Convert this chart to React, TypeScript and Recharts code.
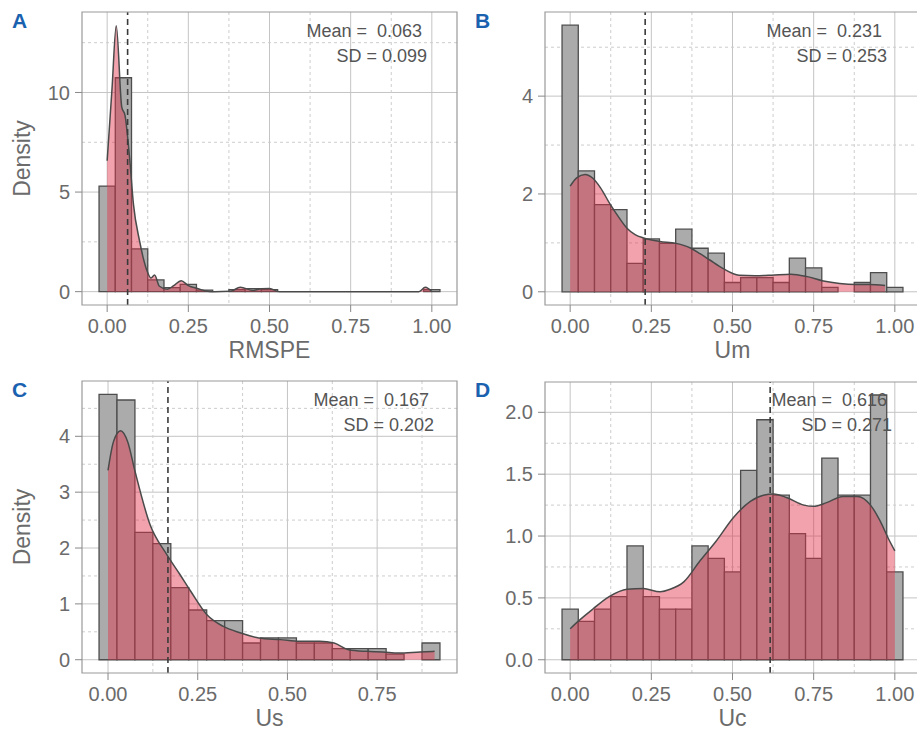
import React from "react";
import {
  Area,
  CartesianGrid,
  ComposedChart,
  ReferenceArea,
  ReferenceLine,
  XAxis,
  YAxis,
} from "recharts";

// histogram bin width (bins are centred on these x values)
const BIN = 0.05;

const BINS_0_TO_1 = [
  0, 0.05, 0.1, 0.15, 0.2, 0.25, 0.3, 0.35, 0.4, 0.45, 0.5, 0.55, 0.6, 0.65,
  0.7, 0.75, 0.8, 0.85, 0.9, 0.95, 1.0,
];
const BINS_0_TO_09 = [
  0, 0.05, 0.1, 0.15, 0.2, 0.25, 0.3, 0.35, 0.4, 0.45, 0.5, 0.55, 0.6, 0.65,
  0.7, 0.75, 0.8, 0.85, 0.9,
];

const X_TICKS = [0, 0.25, 0.5, 0.75, 1];
const X_TICKS_US = [0, 0.25, 0.5, 0.75];
const X_MINOR = [0.125, 0.375, 0.625, 0.875];

// A — RMSPE
const rmspeHist = [
  5.3, 10.74, 2.15, 0.59, 0.2, 0.37, 0.08, 0, 0.1, 0.15, 0.1, 0, 0, 0, 0, 0, 0,
  0, 0, 0, 0.1,
];
const rmspeDensX = [
  0, 0.015, 0.028, 0.045, 0.055, 0.069, 0.081, 0.1, 0.12, 0.135, 0.146, 0.161,
  0.185, 0.205, 0.228, 0.25, 0.28, 0.3, 0.33, 0.38, 0.41, 0.45, 0.475, 0.5,
  0.53, 0.7, 0.96, 0.98, 1.0,
];
const rmspeDensY = [
  6.57, 10.2, 13.35, 9.26, 8.85, 6.74, 4.38, 2.53, 1.18, 0.69, 0.84, 0.27,
  0.12, 0.3, 0.55, 0.3, 0.15, 0.05, 0, 0.02, 0.22, 0.06, 0.15, 0.16, 0, 0, 0,
  0.22, 0,
];

// B — Um
const umHist = [
  5.45, 2.47, 1.78, 1.68, 0.58, 1.08, 0.99, 1.28, 0.89, 0.79, 0.19, 0.29, 0.29,
  0.19, 0.69, 0.49, 0.09, 0, 0.19, 0.39, 0.09,
];
const umDensX = [
  0, 0.02, 0.046, 0.07, 0.093, 0.124, 0.15, 0.175, 0.2, 0.226, 0.276, 0.326,
  0.372, 0.4, 0.43, 0.47, 0.52, 0.57, 0.62, 0.68, 0.73, 0.78, 0.83, 0.88, 0.92,
  0.97,
];
const umDensY = [
  2.16, 2.33, 2.4, 2.32, 2.13, 1.78, 1.52, 1.3, 1.17, 1.1, 1.03, 0.99, 0.89,
  0.78, 0.65, 0.48, 0.34, 0.33, 0.34, 0.36, 0.31, 0.22, 0.17, 0.15, 0.15, 0.13,
];

// C — Us
const usHist = [
  4.75, 4.65, 2.28, 2.08, 1.29, 0.89, 0.7, 0.7, 0.3, 0.39, 0.39, 0.3, 0.3, 0.2,
  0.2, 0.2, 0.1, 0, 0.3,
];
const usDensX = [
  0, 0.015, 0.035, 0.055, 0.075, 0.117, 0.163, 0.2, 0.23, 0.275, 0.32, 0.37,
  0.42, 0.48, 0.535, 0.59, 0.63, 0.67, 0.72, 0.765, 0.81, 0.87, 0.91,
];
const usDensY = [
  3.39, 3.9, 4.1, 3.9, 3.38, 2.42, 1.89, 1.53, 1.23, 0.81, 0.6, 0.48, 0.39,
  0.36, 0.33, 0.33, 0.3, 0.18, 0.15, 0.14, 0.12, 0.14, 0.15,
];

// D — Uc
const ucHist = [
  0.41, 0.31, 0.41, 0.51, 0.92, 0.51, 0.41, 0.41, 0.92, 0.82, 0.71, 1.53, 1.94,
  1.33, 1.02, 0.82, 1.63, 1.33, 1.33, 2.14, 0.71,
];
const ucDensX = [
  0, 0.02, 0.07, 0.12, 0.175, 0.225, 0.277, 0.308, 0.35, 0.4, 0.45, 0.503,
  0.555, 0.595, 0.627, 0.668, 0.72, 0.75, 0.79, 0.84, 0.885, 0.925, 0.955,
  0.98, 1.0,
];
const ucDensY = [
  0.25, 0.3, 0.41, 0.51, 0.57, 0.575, 0.55, 0.57, 0.63, 0.8, 0.96, 1.15, 1.28,
  1.33, 1.34, 1.31, 1.25, 1.24, 1.27, 1.32, 1.32, 1.25, 1.12, 0.98, 0.88,
];

const FONT = "'Liberation Sans', Arial, sans-serif";
const TEXT = "#6b6b6b";
const BAR_FILL = "#ababab";
const BAR_LINE = "#4d4d4d";
const DENS_FILL = "#e0304a";

type PanelProps = {
  letter: string;
  xLabel: string;
  yLabel?: string;
  centers: number[];
  heights: number[];
  densX: number[];
  densY: number[];
  xDomain: [number, number];
  yDomain: [number, number];
  xTicks: number[];
  yTicks: number[];
  yMinor: number[];
  yDigits: number;
  mean: number;
  sd: number;
  left: number;
  top: number;
  width: number;
  height: number;
  marginTop: number;
  marginRight: number;
  yAxisWidth: number;
  titleOffset: number;
  noteRight: number;
  noteTop: number;
  letterLeft: number;
  letterTop: number;
};

function Panel(p: PanelProps) {
  const data = p.densX.map((x, i) => ({ x, y: p.densY[i] }));
  const tick = { fontSize: 20, fill: TEXT, fontFamily: FONT };

  return (
    <div
      style={{ position: "absolute", left: p.left, top: p.top, width: p.width, height: p.height }}
    >
      <ComposedChart
        width={p.width}
        height={p.height}
        data={data}
        margin={{ top: p.marginTop, right: p.marginRight, bottom: 0, left: 0 }}
      >
        <CartesianGrid
          stroke="#c4c4c4"
          horizontalValues={p.yTicks}
          verticalValues={p.xTicks}
        />
        <CartesianGrid
          stroke="#cdcdcd"
          strokeDasharray="3 3"
          horizontalValues={p.yMinor}
          verticalValues={X_MINOR}
        />
        <XAxis
          dataKey="x"
          type="number"
          domain={p.xDomain}
          allowDataOverflow
          ticks={p.xTicks}
          tickFormatter={(v: number) => v.toFixed(2)}
          tick={tick}
          tickSize={7}
          tickMargin={7}
          tickLine={{ stroke: "#888" }}
          axisLine={false}
          height={60}
          label={{
            value: p.xLabel,
            position: "insideBottom",
            offset: p.titleOffset,
            fill: TEXT,
            fontSize: 23,
            fontFamily: FONT,
          }}
        />
        <YAxis
          type="number"
          domain={p.yDomain}
          allowDataOverflow
          ticks={p.yTicks}
          tickFormatter={(v: number) => v.toFixed(p.yDigits)}
          tick={tick}
          tickSize={7}
          tickMargin={5}
          tickLine={{ stroke: "#888" }}
          axisLine={false}
          width={p.yAxisWidth}
          label={
            p.yLabel
              ? {
                  value: p.yLabel,
                  angle: -90,
                  position: "insideLeft",
                  offset: 22,
                  fill: TEXT,
                  fontSize: 23,
                  fontFamily: FONT,
                  style: { textAnchor: "middle" },
                }
              : undefined
          }
        />
        {p.centers.map((c, i) => (
          <ReferenceArea
            key={c}
            x1={c - BIN / 2}
            x2={c + BIN / 2}
            y1={0}
            y2={p.heights[i]}
            fill={BAR_FILL}
            fillOpacity={1}
            stroke={BAR_LINE}
            strokeWidth={1.3}
            ifOverflow="visible"
            zIndex={50}
          />
        ))}
        <Area
          dataKey="y"
          type="monotone"
          baseValue={0}
          fill={DENS_FILL}
          fillOpacity={0.45}
          stroke="#4a4a4a"
          strokeWidth={1.5}
          dot={false}
          activeDot={false}
          isAnimationActive={false}
          zIndex={100}
        />
        <ReferenceLine
          x={p.mean}
          stroke="#3a3a3a"
          strokeWidth={1.6}
          strokeDasharray="6 4"
          zIndex={400}
        />
        <ReferenceArea
          x1={p.xDomain[0]}
          x2={p.xDomain[1]}
          y1={p.yDomain[0]}
          y2={p.yDomain[1]}
          fill="none"
          fillOpacity={0}
          stroke="#9a9a9a"
          strokeWidth={1.2}
          zIndex={450}
        />
      </ComposedChart>
      <div
        style={{
          position: "absolute",
          left: p.noteRight - 220,
          top: p.noteTop,
          width: 220,
          textAlign: "right",
          fontFamily: FONT,
          fontSize: 18,
          lineHeight: "25px",
          color: "#555",
          whiteSpace: "pre",
        }}
      >
        <div style={{ paddingRight: 5 }}>{`Mean =  ${p.mean.toFixed(3)}`}</div>
        <div>{`SD = ${p.sd.toFixed(3)}`}</div>
      </div>
      <div
        style={{
          position: "absolute",
          left: p.letterLeft,
          top: p.letterTop,
          fontFamily: FONT,
          fontWeight: 700,
          fontSize: 21,
          lineHeight: "24px",
          color: "#1a62b0",
        }}
      >
        {p.letter}
      </div>
    </div>
  );
}

export default function App() {
  return (
    <div
      style={{
        position: "absolute",
        left: 0,
        top: 0,
        width: 917,
        height: 731,
        overflow: "hidden",
        background: "#fff",
      }}
    >
      <Panel
        letter="A"
        xLabel="RMSPE"
        yLabel="Density"
        centers={BINS_0_TO_1}
        heights={rmspeHist}
        densX={rmspeDensX}
        densY={rmspeDensY}
        xDomain={[-0.0775, 1.0775]}
        yDomain={[-0.67, 14.04]}
        xTicks={X_TICKS}
        yTicks={[0, 5, 10]}
        yMinor={[2.5, 7.5, 12.5]}
        yDigits={0}
        mean={0.063}
        sd={0.099}
        left={0}
        top={0}
        width={460}
        height={365}
        marginTop={12}
        marginRight={3}
        yAxisWidth={82}
        titleOffset={7}
        noteRight={427}
        noteTop={19}
        letterLeft={12}
        letterTop={9}
      />
      <Panel
        letter="B"
        xLabel="Um"
        centers={BINS_0_TO_1}
        heights={umHist}
        densX={umDensX}
        densY={umDensY}
        xDomain={[-0.0775, 1.0775]}
        yDomain={[-0.27, 5.72]}
        xTicks={X_TICKS}
        yTicks={[0, 2, 4]}
        yMinor={[1, 3, 5]}
        yDigits={0}
        mean={0.231}
        sd={0.253}
        left={457}
        top={0}
        width={463}
        height={365}
        marginTop={12}
        marginRight={0}
        yAxisWidth={88}
        titleOffset={7}
        noteRight={430}
        noteTop={19}
        letterLeft={18}
        letterTop={9}
      />
      <Panel
        letter="C"
        xLabel="Us"
        yLabel="Density"
        centers={BINS_0_TO_09}
        heights={usHist}
        densX={usDensX}
        densY={usDensY}
        xDomain={[-0.0725, 0.9725]}
        yDomain={[-0.2375, 4.99]}
        xTicks={X_TICKS_US}
        yTicks={[0, 1, 2, 3, 4]}
        yMinor={[0.5, 1.5, 2.5, 3.5, 4.5]}
        yDigits={0}
        mean={0.167}
        sd={0.202}
        left={0}
        top={365}
        width={460}
        height={368}
        marginTop={16}
        marginRight={3}
        yAxisWidth={82}
        titleOffset={7}
        noteRight={434}
        noteTop={23}
        letterLeft={12}
        letterTop={13}
      />
      <Panel
        letter="D"
        xLabel="Uc"
        centers={BINS_0_TO_1}
        heights={ucHist}
        densX={ucDensX}
        densY={ucDensY}
        xDomain={[-0.0775, 1.0775]}
        yDomain={[-0.107, 2.245]}
        xTicks={X_TICKS}
        yTicks={[0, 0.5, 1, 1.5, 2]}
        yMinor={[0.25, 0.75, 1.25, 1.75]}
        yDigits={1}
        mean={0.616}
        sd={0.271}
        left={457}
        top={365}
        width={463}
        height={368}
        marginTop={17}
        marginRight={0}
        yAxisWidth={88}
        titleOffset={7}
        noteRight={435}
        noteTop={23}
        letterLeft={18}
        letterTop={13}
      />
    </div>
  );
}
